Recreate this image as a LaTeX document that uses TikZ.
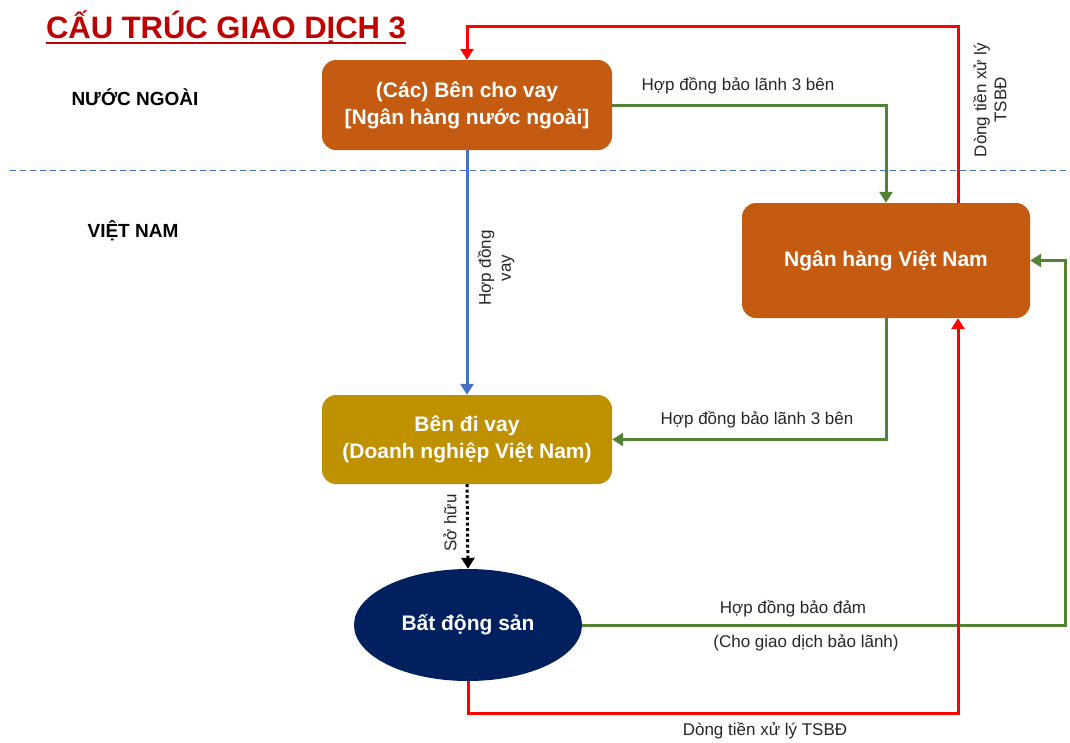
\documentclass[tikz,border=0pt]{standalone}
\usepackage{fontspec}
\setmainfont{Liberation Sans}
\usetikzlibrary{arrows.meta,calc,shapes.geometric}
\definecolor{boxorange}{HTML}{C55A11}
\definecolor{boxgold}{HTML}{BF9000}
\definecolor{navy}{HTML}{002060}
\definecolor{grn}{HTML}{548235}
\definecolor{blu}{HTML}{4472C4}
\definecolor{titlered}{HTML}{C00000}
\definecolor{txt}{HTML}{262626}
\tikzset{
  boxnode/.style={rectangle, rounded corners=14pt, draw=none, text=white, align=center,
    font=\fontsize{21}{27}\selectfont\bfseries, inner sep=0pt},
  lbl/.style={text=txt, font=\fontsize{17}{20}\selectfont, align=center, inner sep=0pt},
  region/.style={text=black, font=\fontsize{19}{22}\selectfont\bfseries, inner sep=0pt},
  tip/.style={-{Triangle[width=13pt,length=11pt]}},
  redline/.style={draw={rgb,255:red,255;green,0;blue,0}, line width=3pt},
  grnline/.style={draw=grn, line width=3pt},
  bluline/.style={draw=blu, line width=3pt},
}
\begin{document}
\begin{tikzpicture}[x=1pt,y=-1pt]
\useasboundingbox (0,0) rectangle (1070,742);
% title
\node[text=titlered, font=\fontsize{31}{34}\selectfont\bfseries, inner sep=0pt] (title) at (226,27) {CẤU TRÚC GIAO DỊCH 3};
\draw[titlered, line width=2.5pt] (title.base west) ++(0,5) -- ($(title.base east)+(0,5)$);
% regions
\node[region] (nn) at (135,97) {NƯỚC NGOÀI};
\node[region] (vn) at (133,231) {VIỆT NAM};
\draw[blu, line width=1pt, dash pattern=on 6pt off 4pt] (10,170) -- (1070,170);
% nodes
\node[boxnode, fill=boxorange, minimum width=290pt, minimum height=90pt] (A) at (467,105) {(Các) Bên cho vay\\{}[Ngân hàng nước ngoài]};
\node[boxnode, fill=boxorange, minimum width=288pt, minimum height=115pt] (B) at (886,260.5) {Ngân hàng Việt Nam};
\node[boxnode, fill=boxgold, minimum width=290pt, minimum height=89pt] (C) at (467,439.5) {Bên đi vay\\(Doanh nghiệp Việt Nam)};
\node[ellipse, fill=navy, text=white, minimum width=228pt, minimum height=112pt, inner sep=0pt,
  font=\fontsize{21}{24}\selectfont\bfseries] (D) at (468,625) {Bất động sản};
% connectors
\draw[redline, tip] ([xshift=72pt]B.north) |- ($(A.north)+(0,-33)$) -- (A.north);
\draw[grnline, tip] (A.east) -| (B.north);
\draw[bluline, tip] (A.south) -- (C.north);
\draw[grnline, tip] (B.south) |- (C.east);
\draw[black, line width=3pt, dash pattern=on 3pt off 2.5pt, tip] (C.south) -- (D.north);
\draw[grnline, tip] (D.east) -| ($(B.east)+(35,0)$) -- (B.east);
\draw[redline, tip] (D.south) |- ($(B.south)+(72,395)$) -- ([xshift=72pt]B.south);
% labels
\node[lbl] (l1) at (738,86) {Hợp đồng bảo lãnh 3 bên};
\node[lbl] (l2) at (757,420) {Hợp đồng bảo lãnh 3 bên};
\node[lbl, rotate=90] (l3) at (990,100) {Dòng tiền xử lý\\TSBĐ};
\node[lbl, rotate=90] (l4) at (496,268) {Hợp đồng\\vay};
\node[lbl, rotate=90] (l5) at (450,523) {Sở hữu};
\node[lbl] (l6) at (793,609) {Hợp đồng bảo đảm};
\node[lbl] (l7) at (806,643) {(Cho giao dịch bảo lãnh)};
\node[lbl] (l8) at (765,731) {Dòng tiền xử lý TSBĐ};
\end{tikzpicture}
\end{document}
